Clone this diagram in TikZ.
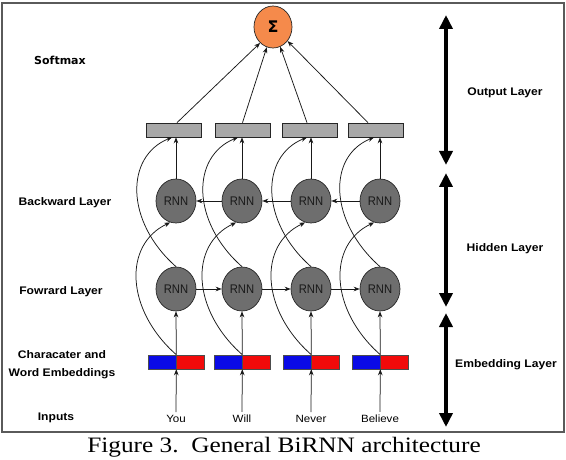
\documentclass[tikz,border=0pt]{standalone}
\usepackage{fontspec}
\usetikzlibrary{arrows.meta,shapes.geometric}
\newfontfamily\labfont[FakeStretch=1.1]{Liberation Sans}
\newfontfamily\rnnfont[FakeStretch=0.9]{Liberation Sans}
\newfontfamily\smfont{DejaVu Sans}
\newfontfamily\capfont[FakeStretch=1.15]{Liberation Serif}
\definecolor{sigorange}{HTML}{F58A4B}
\definecolor{rnngray}{HTML}{6E6E6E}
\definecolor{boxgray}{HTML}{A8A8A8}
\definecolor{eblue}{HTML}{0A0AE6}
\definecolor{ered}{HTML}{F20A0A}
\definecolor{framegray}{HTML}{5A5A5A}
\begin{document}
\begin{tikzpicture}[x=1pt,y=-1pt,
  rnn/.style={ellipse, draw=black!85, line width=0.7pt, fill=rnngray, minimum width=40pt, minimum height=44pt, inner sep=0pt, font=\rnnfont\fontsize{12.5}{13}\selectfont, text=black!90},
  sigma/.style={ellipse, draw=black!85, line width=0.7pt, fill=sigorange, minimum width=38pt, minimum height=42pt, inner sep=0pt, font=\smfont\bfseries\fontsize{16}{18}\selectfont},
  gbox/.style={rectangle, draw=black!85, line width=0.7pt, fill=boxgray, minimum width=55pt, minimum height=14pt, inner sep=0pt},
  bhalf/.style={rectangle, draw=black!70, line width=0.6pt, fill=eblue, minimum width=28pt, minimum height=14pt, inner sep=0pt},
  rhalf/.style={rectangle, draw=black!70, line width=0.6pt, fill=ered, minimum width=28pt, minimum height=14pt, inner sep=0pt},
  lab/.style={font=\labfont\bfseries\fontsize{11}{18}\selectfont, align=center, inner sep=0pt},
  inp/.style={font=\labfont\fontsize{10.5}{12}\selectfont, inner sep=3pt},
  conn/.style={draw=black!90, line width=0.75pt, -{Stealth[length=6pt,width=4.6pt]}},
  big/.style={line width=4.5pt, {Triangle[length=14pt,width=13pt]}-{Triangle[length=14pt,width=13pt]}}
]
\useasboundingbox (0,0) rectangle (566,460);
\draw[framegray, line width=1.3pt] (2,3) rectangle (564,432);

% sigma
\node[sigma] (sig) at (273,27) {Σ};

% gray output boxes
\node[gbox] (g1) at (174,130) {};
\node[gbox] (g2) at (242.5,130) {};
\node[gbox] (g3) at (309.5,130) {};
\node[gbox] (g4) at (375.5,130) {};

% RNN nodes
\node[rnn] (b1) at (176,201) {RNN};
\node[rnn] (b2) at (242,201) {RNN};
\node[rnn] (b3) at (311,201) {RNN};
\node[rnn] (b4) at (380,201) {RNN};
\node[rnn] (f1) at (176,289) {RNN};
\node[rnn] (f2) at (242,289) {RNN};
\node[rnn] (f3) at (311,289) {RNN};
\node[rnn] (f4) at (380,289) {RNN};

% embeddings
\node[bhalf] (e1l) at (162,362) {};
\node[rhalf] (e1r) at (190,362) {};
\node[bhalf] (e2l) at (228,362) {};
\node[rhalf] (e2r) at (256,362) {};
\node[bhalf] (e3l) at (297,362) {};
\node[rhalf] (e3r) at (325,362) {};
\node[bhalf] (e4l) at (366,362) {};
\node[rhalf] (e4r) at (394,362) {};

% inputs
\node[inp] (w1) at (176,419) {You};
\node[inp] (w2) at (242,419) {Will};
\node[inp] (w3) at (311,419) {Never};
\node[inp] (w4) at (380,419) {Believe};

% connectors: inputs -> embeddings
\draw[conn] (w1.north) -- (e1l.south east);
\draw[conn] (w2.north) -- (e2l.south east);
\draw[conn] (w3.north) -- (e3l.south east);
\draw[conn] (w4.north) -- (e4l.south east);

% embeddings -> forward
\draw[conn] (e1l.north east) -- (f1.south);
\draw[conn] (e2l.north east) -- (f2.south);
\draw[conn] (e3l.north east) -- (f3.south);
\draw[conn] (e4l.north east) -- (f4.south);

% embeddings -> backward (curved)
\draw[conn] (e1l.north east) .. controls +(-51,-45) and +(-47,22) .. (b1.255);
\draw[conn] (e2l.north east) .. controls +(-51,-45) and +(-47,22) .. (b2.255);
\draw[conn] (e3l.north east) .. controls +(-51,-45) and +(-47,22) .. (b3.255);
\draw[conn] (e4l.north east) .. controls +(-51,-45) and +(-47,22) .. (b4.255);

% forward chain
\draw[conn] (f1) -- (f2);
\draw[conn] (f2) -- (f3);
\draw[conn] (f3) -- (f4);
% backward chain
\draw[conn] (b2) -- (b1);
\draw[conn] (b3) -- (b2);
\draw[conn] (b4) -- (b3);

% forward -> output boxes (curved)
\draw[conn] (f1.north) .. controls +(-51,-45) and +(-47,19) .. ([xshift=-4pt]b1.north |- g1.south);
\draw[conn] (f2.north) .. controls +(-51,-45) and +(-47,19) .. ([xshift=-4pt]b2.north |- g2.south);
\draw[conn] (f3.north) .. controls +(-51,-45) and +(-47,19) .. ([xshift=-4pt]b3.north |- g3.south);
\draw[conn] (f4.north) .. controls +(-51,-45) and +(-47,19) .. ([xshift=-6pt]b4.north |- g4.south);

% backward -> output boxes
\draw[conn] (b1.north) -- (b1.north |- g1.south);
\draw[conn] (b2.north) -- (b2.north |- g2.south);
\draw[conn] (b3.north) -- (b3.north |- g3.south);
\draw[conn] (b4.north) -- (b4.north |- g4.south);

% boxes -> sigma
\draw[conn] ([xshift=3pt]g1.north) -- (sig.231);
\draw[conn] ([xshift=0pt]g2.north) -- (sig.253);
\draw[conn] ([xshift=-2.5pt]g3.north) -- (sig.290);
\draw[conn] ([xshift=-7.5pt]g4.north) -- (sig.316);

% left labels
\node[font=\smfont\bfseries\fontsize{11}{13}\selectfont, inner sep=0pt] (lsoft) at (60,60) {Softmax};
\node[lab] (lback) at (65,203) {Backward Layer};
\node[lab] (lfwd) at (61,292) {Fowrard Layer};
\node[lab] (lemb) at (62,365) {Characater and\\Word Embeddings};
\node[lab] (linp) at (56,418) {Inputs};

% right big arrows
\coordinate (oa) at (446,15);
\coordinate (ob) at (446,165);
\coordinate (ha) at (446,173);
\coordinate (hb) at (446,307);
\coordinate (ea) at (446,313);
\coordinate (eb) at (446,427);
\draw[big] (oa) -- (ob);
\draw[big] (ha) -- (hb);
\draw[big] (ea) -- (eb);

\node[lab] (lout) at (505,93) {Output Layer};
\node[lab] (lhid) at (505,249) {Hidden Layer};
\node[lab] (lemL) at (506,365) {Embedding Layer};

% caption
\node[font=\capfont\fontsize{22}{24}\selectfont, inner sep=0pt] (cap) at (284,447) {Figure 3.\ \ General BiRNN architecture};
\end{tikzpicture}
\end{document}
